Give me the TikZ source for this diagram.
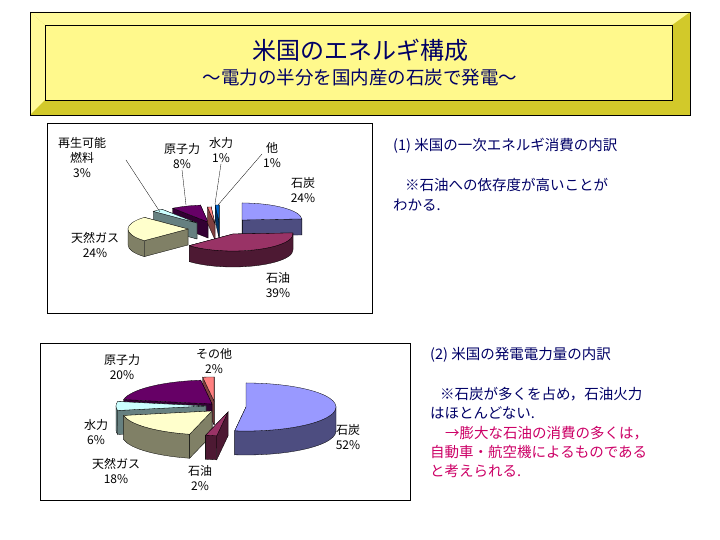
\documentclass[tikz,border=0pt]{standalone}
\usepackage{fontspec}
\setmainfont{Noto Sans CJK JP}
\definecolor{ink}{HTML}{000066}
\definecolor{rose}{HTML}{CC0066}
\definecolor{coalT}{HTML}{9999FF}\definecolor{coalS}{HTML}{4D4D80}
\definecolor{oilT}{HTML}{993366}\definecolor{oilS}{HTML}{4D1933}
\definecolor{gasT}{HTML}{FFFFCC}\definecolor{gasS}{HTML}{808066}
\definecolor{aquaT}{HTML}{CCFFFF}\definecolor{aquaS}{HTML}{668080}
\definecolor{nucT}{HTML}{660066}\definecolor{nucS}{HTML}{330033}
\definecolor{pinkT}{HTML}{FF8080}\definecolor{pinkS}{HTML}{804040}
\definecolor{blueT}{HTML}{0066CC}\definecolor{blueS}{HTML}{003366}
\newcommand\prx{60}\newcommand\pry{17}\newcommand\pdep{16}
% cx, cy, from, to, front from, front to, top colour, side colour
\newcommand\pieslice[8]{%
  \filldraw[fill=#8,line width=.3pt] (#1,#2) -- ++({\prx*cos(#3)},{\pry*sin(#3)}) -- ++(0,-\pdep) -- (#1,#2-\pdep) -- cycle;
  \filldraw[fill=#8,line width=.3pt] (#1,#2) -- ++({\prx*cos(#4)},{\pry*sin(#4)}) -- ++(0,-\pdep) -- (#1,#2-\pdep) -- cycle;
  \ifdim #5pt<#6pt
  \filldraw[fill=#8,line width=.3pt] (#1,#2) ++({\prx*cos(#5)},{\pry*sin(#5)}) arc[start angle=#5,end angle=#6,x radius=\prx,y radius=\pry] -- ++(0,-\pdep) arc[start angle=#6,end angle=#5,x radius=\prx,y radius=\pry] -- cycle;
  \fi
  \filldraw[fill=#7,line width=.3pt] (#1,#2) -- ++({\prx*cos(#3)},{\pry*sin(#3)}) arc[start angle=#3,end angle=#4,x radius=\prx,y radius=\pry] -- cycle;}
\begin{document}
\begin{tikzpicture}[x=1pt, y=1pt,
  frame/.style={draw, line width=.6pt},
  lbl/.style={align=center, font=\fontsize{12}{15}\selectfont, inner sep=1pt},
  note/.style={anchor=west, text=ink, font=\fontsize{14.5}{16}\selectfont, inner sep=0pt},
  lead/.style={line width=.3pt}]
\useasboundingbox (0,0) rectangle (720,540);
% title plate
\fill[yellow!50!olive!80] (30,540-12) rectangle (690,540-115);
\fill[yellow!40!white] (30,540-12) -- (690,540-12) -- (672,540-25) -- (45,540-25) -- cycle;
\fill[yellow!40!white] (30,540-12) -- (45,540-25) -- (45,540-100) -- (30,540-115) -- cycle;
\draw[line width=.5pt] (30,540-12) rectangle (690,540-115);
\draw[line width=.5pt, fill=yellow!45] (45,540-25) rectangle (672,540-100);
\node[text=ink, font=\fontsize{24}{26}\selectfont] (title) at (360,540-50) {米国のエネルギ構成};
\node[text=ink, font=\fontsize{18.5}{20}\selectfont] (subtitle) at (360,540-78) {～電力の半分を国内産の石炭で発電～};
% chart 1
\draw[frame] (47,540-123) rectangle (372,540-313);
\pieslice{208}{540-222}{97.2}{126}{0}{0}{nucT}{nucS}
\pieslice{197}{540-223}{126}{136.8}{0}{0}{aquaT}{aquaS}
\pieslice{215}{540-224}{93.6}{97.2}{0}{0}{pinkT}{pinkS}
\pieslice{219}{540-222}{90}{93.6}{0}{0}{blueT}{blueS}
\pieslice{242}{540-220}{3.6}{90}{0}{0}{coalT}{coalS}
\pieslice{188}{540-229}{136.8}{223.2}{180}{223.2}{gasT}{gasS}
\pieslice{233}{540-234}{-136.8}{3.6}{-136.8}{0}{oilT}{oilS}
\node[lbl] (renew1) at (82,540-158) {再生可能\\燃料\\3\%};
\node[lbl] (nuc1) at (182,540-156) {原子力\\8\%};
\node[lbl] (hydro1) at (221,540-150) {水力\\1\%};
\node[lbl] (other1) at (272,540-155) {他\\1\%};
\node[lbl] (coal1) at (303,540-190) {石炭\\24\%};
\node[lbl] (gas1) at (95,540-245) {天然ガス\\24\%};
\node[lbl] (oil1) at (278,540-285) {石油\\39\%};
\coordinate (renew1tip) at (160,540-212);
\coordinate (nuc1tip) at (186,540-205);
\coordinate (hydro1tip) at (215,540-204);
\coordinate (other1tip) at (218,540-205);
\draw[lead] (126,540-160) -- (renew1tip);
\draw[lead] (nuc1.south) -- (nuc1tip);
\draw[lead] (hydro1.south) -- (hydro1tip);
\draw[lead] (262,540-154) -- (other1tip);
% chart 2
\renewcommand\prx{90}\renewcommand\pry{24}\renewcommand\pdep{24}
\draw[frame] (40,540-343) rectangle (410,540-500);
\pieslice{214}{540-401}{90}{97.2}{0}{0}{pinkT}{pinkS}
\pieslice{212}{540-404}{97.2}{169.2}{0}{0}{nucT}{nucS}
\pieslice{206}{540-406}{169.2}{190.8}{180}{190.8}{aquaT}{aquaS}
\pieslice{212}{540-411}{-169.2}{-104.4}{-169.2}{-104.4}{gasT}{gasS}
\pieslice{228}{540-412}{-104.4}{-97.2}{-104.4}{-97.2}{oilT}{oilS}
\pieslice{246}{540-407}{-97.2}{90}{-97.2}{0}{coalT}{coalS}
\node[lbl] (nuc2) at (122,540-367) {原子力\\20\%};
\node[lbl] (other2) at (214,540-361) {その他\\2\%};
\node[lbl] (hydro2) at (96,540-432) {水力\\6\%};
\node[lbl] (gas2) at (116,540-471) {天然ガス\\18\%};
\node[lbl] (oil2) at (200,540-478) {石油\\2\%};
\node[lbl] (coal2) at (348,540-437) {石炭\\52\%};
% notes
\node[note] (head1) at (393,540-146) {(1) 米国の一次エネルギ消費の内訳};
\node[note] (n1a) at (405,540-185) {※石油への依存度が高いことが};
\node[note] (n1b) at (393,540-205) {わかる.};
\node[note] (head2) at (430,540-355) {(2) 米国の発電電力量の内訳};
\node[note] (n2a) at (440,540-394) {※石炭が多くを占め，石油火力};
\node[note] (n2b) at (430,540-413) {はほとんどない.};
\node[note, text=rose] (n2c) at (445,540-433) {→膨大な石油の消費の多くは，};
\node[note, text=rose] (n2d) at (430,540-452) {自動車・航空機によるものである};
\node[note, text=rose] (n2e) at (430,540-471) {と考えられる.};
\end{tikzpicture}
\end{document}
